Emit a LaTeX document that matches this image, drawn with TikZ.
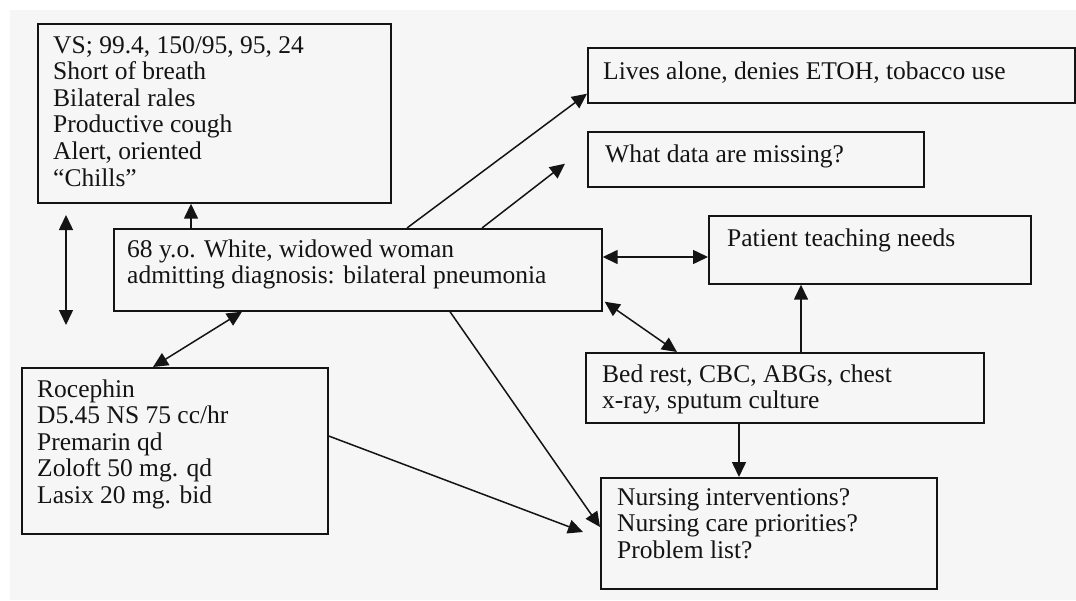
\documentclass[tikz,border=0pt]{standalone}
\usepackage{fontspec}
\setmainfont{Liberation Serif}
\usetikzlibrary{arrows.meta,calc}
\definecolor{ink}{HTML}{141414}
\definecolor{paper}{HTML}{F6F6F6}

\begin{document}
\begin{tikzpicture}[x=1pt,y=-1pt,
  box/.style={draw=ink, line width=1.7pt, inner sep=0pt, anchor=north west},
  % base west of a multi-line text is the baseline of its last line
  txt/.style={inner sep=0pt, anchor=base west, align=left, text=ink,
              font=\fontsize{25.5}{26.6}\selectfont},
  arr/.style={draw=ink, line width=1.5pt, -{Triangle[length=15pt,width=14pt]}},
  dbl/.style={draw=ink, line width=1.5pt,
              {Triangle[length=15pt,width=14pt]}-{Triangle[length=15pt,width=14pt]}}]

% page and paper
\useasboundingbox (0,0) rectangle (1076,600);
\fill[white] (0,0) rectangle (1076,600);
\fill[paper] (10,10) rectangle (1076,600);

% boxes
\node[box, minimum width=353pt, minimum height=179pt] (vs)      at (37,23)  {};
\node[box, minimum width=488pt, minimum height=82pt]  (central) at (113,228) {};
\node[box, minimum width=306pt, minimum height=166pt] (roc)     at (21,367) {};
\node[box, minimum width=487pt, minimum height=55pt]  (lives)   at (587,47) {};
\node[box, minimum width=336pt, minimum height=55pt]  (what)    at (587,131) {};
\node[box, minimum width=322pt, minimum height=68pt]  (patient) at (708,215) {};
\node[box, minimum width=398pt, minimum height=70pt]  (bed)     at (585,352) {};
\node[box, minimum width=336pt, minimum height=111pt] (nurse)   at (600,477) {};

% texts
\node[txt] (vs-t) at ([xshift=16pt,yshift=-163pt]vs.north west)
  {VS; 99.4, 150/95, 95, 24\\Short of breath\\Bilateral rales\\Productive cough\\Alert, oriented\\“Chills”};
\node[txt, font=\fontsize{25.5}{26}\selectfont] (central-t) at ([xshift=14pt,yshift=-55pt]central.north west)
  {68 y.o. White, widowed woman\\admitting diagnosis: bilateral pneumonia};
\node[txt] (roc-t) at ([xshift=16pt,yshift=-136.4pt]roc.north west)
  {Rocephin\\D5.45 NS 75 cc/hr\\Premarin qd\\Zoloft 50 mg. qd\\Lasix 20 mg. bid};
\node[txt] (lives-t) at ([xshift=16pt,yshift=-32pt]lives.north west)
  {Lives alone, denies ETOH, tobacco use};
\node[txt] (what-t) at ([xshift=18pt,yshift=-31pt]what.north west)
  {What data are missing?};
\node[txt] (patient-t) at ([xshift=19pt,yshift=-31pt]patient.north west)
  {Patient teaching needs};
\node[txt] (bed-t) at ([xshift=17pt,yshift=-56.6pt]bed.north west)
  {Bed rest, CBC, ABGs, chest\\x-ray, sputum culture};
\node[txt] (nurse-t) at ([xshift=17pt,yshift=-81.2pt]nurse.north west)
  {Nursing interventions?\\Nursing care priorities?\\Problem list?};

% free-standing two-way arrow at the left
\coordinate (vtop) at (66,215);
\coordinate (vbot) at (66,325);
\draw[dbl] (vtop) -- (vbot);

% connectors
\draw[arr] ([xshift=78pt]central.north west) -- ([xshift=78pt]central.north west |- vs.south);
\draw[dbl] ([xshift=129pt]central.south west) -- ([xshift=132pt]roc.north west);
\draw[arr] ([xshift=294pt]central.north west) -- ([yshift=10pt]lives.south west);
\draw[arr] ([xshift=369pt]central.north west) -- ([xshift=-22pt,yshift=24pt]what.south west);
\draw[dbl] ([yshift=-29pt]central.north east) -- ([yshift=-29pt]central.north east -| patient.west);
\draw[dbl] ([xshift=2pt,yshift=10pt]central.south east) -- ([xshift=92pt]bed.north west);
\draw[arr] ([xshift=216pt]bed.north west) -- ([xshift=216pt]bed.north west |- patient.south);
\draw[arr] ([xshift=154pt]bed.south west) -- ([xshift=154pt]bed.south west |- nurse.north);
\draw[arr] ([yshift=-69pt]roc.north east) -- ([xshift=-17pt,yshift=-55pt]nurse.north west);
\draw[arr] ([xshift=337pt]central.south west) -- ([yshift=-50pt]nurse.north west);
\end{tikzpicture}
\end{document}
